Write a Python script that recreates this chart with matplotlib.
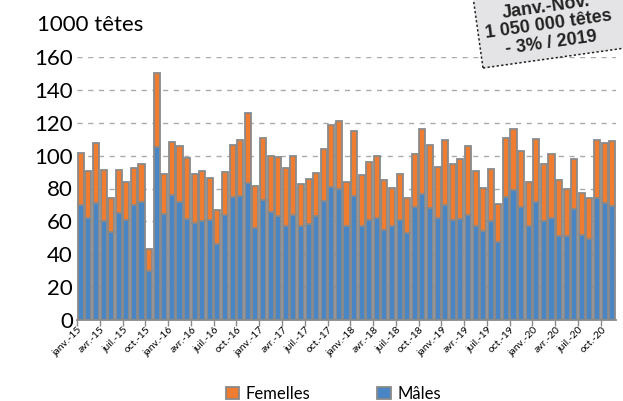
import numpy as np
import matplotlib.pyplot as plt
from matplotlib.patches import Rectangle
from matplotlib.transforms import IdentityTransform

# monthly slaughter, 1000 head, janv. 2015 -> nov. 2020
mois = ['janv.', 'févr.', 'mars', 'avr.', 'mai', 'juin',
        'juil.', 'août', 'sept.', 'oct.', 'nov.', 'déc.']
annees = [15, 16, 17, 18, 19, 20]

total = [101.5, 90.7, 107.6, 91.4, 74, 91, 84, 92.5, 95, 43, 150.5, 89,
         108.5, 106, 98.5, 89, 90.5, 86.5, 67, 90, 106.5, 109.5, 126, 81.5,
         111, 100, 99, 92.5, 99.5, 83, 86, 89.5, 104, 118.5, 121, 84,
         115, 88, 96, 99.5, 85, 80.5, 89, 74, 101, 116, 106.5, 93,
         109.5, 95, 98, 106, 90.5, 80.5, 92, 70.5, 111, 116.5, 103, 84,
         110, 95, 101, 85, 80, 98, 77, 74.5, 109.5, 107.5, 109]
males = [70, 62, 71, 60, 53.5, 65, 61, 70, 71.5, 30, 105.5, 64.5,
         76, 71.5, 61.5, 59, 60, 61, 46, 64, 75, 75.5, 83.5, 56,
         73, 66, 63, 57, 64, 57, 58.5, 63, 72.5, 81, 80, 57,
         75.5, 57, 61, 62, 54.5, 57, 61, 53, 68.5, 76.5, 68, 62,
         70, 61, 61.5, 64, 57, 54, 60.5, 47.5, 75, 79, 69, 57,
         72, 60.5, 62, 51, 51, 67.5, 52, 49, 74.5, 71, 69.5]
femelles = [t - m for t, m in zip(total, males)]

labels = [f'{m}-{a}' for a in annees for m in mois][:len(total)]
x = np.arange(len(total))

note = ['Janv.-Nov.', '1 050 000 têtes', '- 3% / 2019']

plt.rcParams['font.family'] = ['Lato', 'DejaVu Sans']

fig = plt.figure(figsize=(6.23, 4.01), dpi=100)
ax = fig.add_axes([77 / 623, 81 / 401, 539 / 623, 263 / 401])

bleu = '#4a86c4'
orange = '#ee7d31'
gris = '#8a8a8a'
ax.bar(x, males, width=0.8, color=bleu, edgecolor=gris, linewidth=1.3, label='Mâles', zorder=2)
ax.bar(x, femelles, bottom=males, width=0.8, color=orange, edgecolor=gris, linewidth=1.3,
       label='Femelles', zorder=2)

ax.set_xlim(-0.5, len(total) - 0.5)
ax.set_ylim(0, 160)
ax.set_yticks(range(0, 161, 20))
ax.tick_params(axis='y', length=0, labelsize=16, pad=3)
ax.yaxis.grid(True, color='#aaaaaa', linewidth=1, linestyle=(0, (3.7, 4)), zorder=0)

ax.set_xticks(x[::3])
ax.set_xticklabels(labels[::3], rotation=45, ha='right', va='center',
                   rotation_mode='anchor', fontsize=7.5)
ax.tick_params(axis='x', which='major', length=0, pad=6)
ax.set_xticks(x[::3] - 0.5, minor=True)
ax.tick_params(axis='x', which='minor', length=4, color=gris, width=1)

for s in ['top', 'right', 'left']:
    ax.spines[s].set_visible(False)
ax.spines['bottom'].set_color(gris)
ax.spines['bottom'].set_linewidth(1.3)

fig.text(37 / 623, 1 - 25 / 401, '1000 têtes', fontsize=16, va='center', ha='left')

h, l = ax.get_legend_handles_labels()
fig.legend(h[::-1], l[::-1], loc='center', bbox_to_anchor=(0.535, 0.018), ncol=2,
           frameon=False, fontsize=12, handlelength=0.8, handleheight=0.8,
           handletextpad=0.4, columnspacing=4)

# rotated note box, top right (partly outside the picture, as in the source)
ang = 8
box = Rectangle((483, 401 - 68), 180, 110, angle=ang, transform=IdentityTransform(),
                facecolor='#e4e4e6', edgecolor='#222222', linewidth=1.1,
                linestyle=(0, (1.5, 1.5)), zorder=5)
fig.add_artist(box)
cx, cy = 549, 401 - 25
step = 18
s, c = np.sin(np.radians(ang)), np.cos(np.radians(ang))
for k, txt in enumerate(note):
    d = (k - 1) * step
    fig.text(cx + d * s, cy - d * c, txt, transform=IdentityTransform(),
             rotation=ang, rotation_mode='anchor', ha='center', va='center',
             fontsize=13, fontweight='bold', family=['Liberation Sans', 'DejaVu Sans'],
             color='#222222', zorder=6)

fig.savefig('out.png', dpi=100)
